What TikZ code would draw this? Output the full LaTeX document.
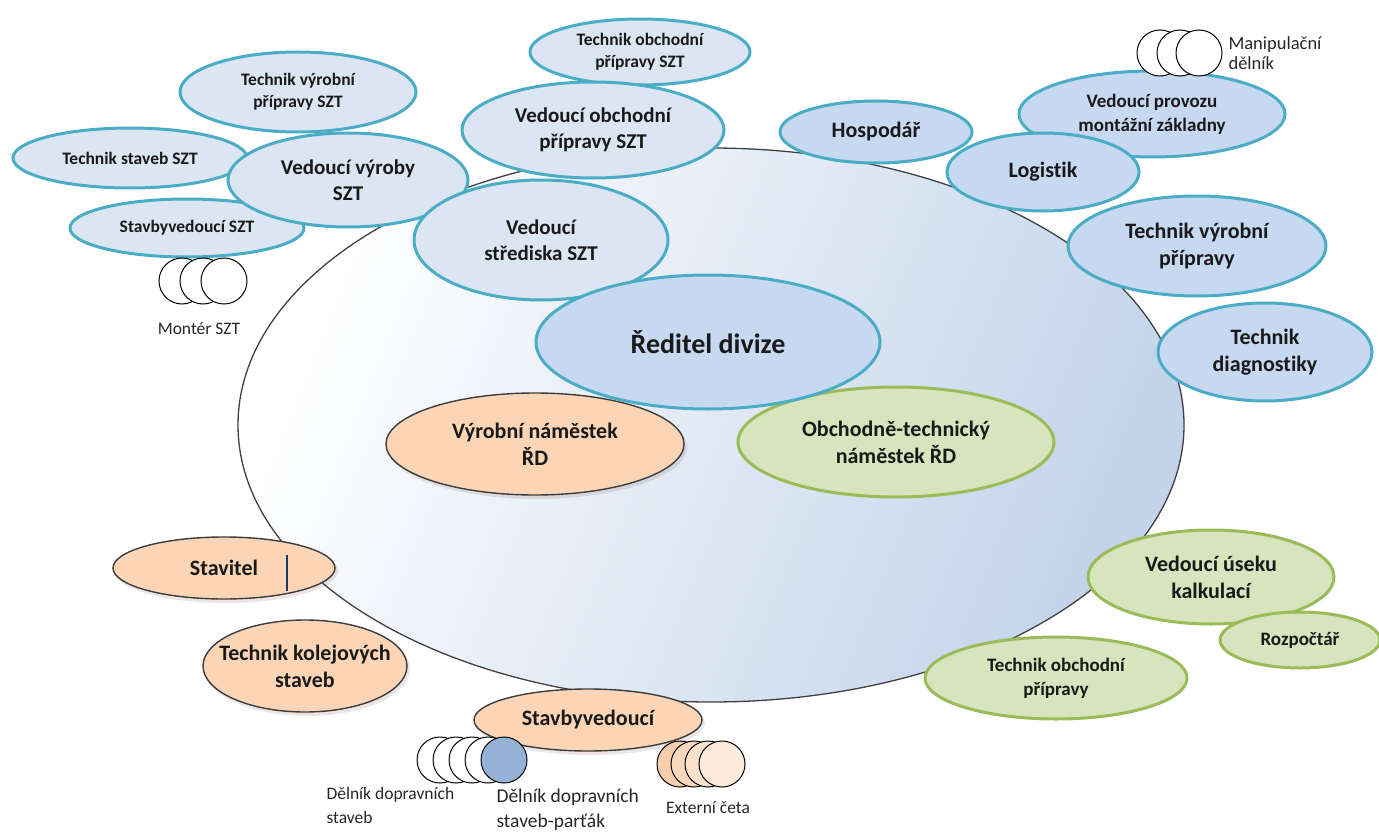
\documentclass[tikz,border=0pt]{standalone}
\usepackage{fontspec}
\setmainfont{Carlito}[Ligatures=NoCommon]
\usetikzlibrary{shapes.geometric}

\definecolor{sztfill}{RGB}{220,230,242}
\definecolor{bluefill}{RGB}{198,217,241}
\definecolor{tealline}{RGB}{75,172,198}
\definecolor{peachfill}{RGB}{251,213,181}
\definecolor{peachline}{RGB}{60,60,60}
\definecolor{greenfill}{RGB}{215,228,189}
\definecolor{greenline}{RGB}{155,187,89}
\definecolor{areablue}{RGB}{194,211,234}
\definecolor{partak}{RGB}{149,179,215}
\definecolor{ext1}{RGB}{246,206,172}
\definecolor{ext2}{RGB}{249,216,188}
\definecolor{ext3}{RGB}{251,225,203}
\definecolor{ext4}{RGB}{253,234,218}
\definecolor{cursor}{RGB}{31,56,100}
\definecolor{shadowbrown}{RGB}{90,50,30}

\tikzset{
  blob/.style={ellipse, inner sep=0pt, outer sep=0pt},
  szt/.style={blob, fill=sztfill, draw=tealline, line width=3pt},
  blu/.style={blob, fill=bluefill, draw=tealline, line width=3pt},
  peach/.style={blob, fill=peachfill, draw=peachline, line width=1.4pt},
  grn/.style={blob, fill=greenfill, draw=greenline, line width=3pt},
  txt/.style={align=center, text=black!90},
  small/.style={txt, font=\bfseries\fontsize{17.5}{22}\selectfont},
  smallb/.style={txt, font=\bfseries\fontsize{19}{24}\selectfont},
  mediums/.style={txt, font=\bfseries\fontsize{21}{26}\selectfont},
  medium/.style={txt, font=\bfseries\fontsize{22}{27}\selectfont},
  big/.style={txt, font=\bfseries\fontsize{28}{32}\selectfont},
  plain/.style={font=\fontsize{17.5}{24}\selectfont, align=left, text=black!85},
  worker/.style={circle, minimum size=46pt, inner sep=0pt, draw=black, line width=1pt, fill=white},
}

% #1 name, #2 x, #3 y, #4 x radius, #5 y radius, #6 shape style, #7 text style, #8 text
\newcommand\roleoval[8]{%
  \node[#6, minimum width={2*#4}, minimum height={2*#5}] (#1) at (#2,#3) {};
  \node[#7] (#1-t) at (#1.center) {#8};
}
% same with a soft shadow underneath
\newcommand\roleovalshadow[8]{%
  \fill[shadowbrown, opacity=.12] (#2+2,#3+3) ellipse [x radius=#4+1, y radius=#5+1];
  \roleoval{#1}{#2}{#3}{#4}{#5}{#6}{#7}{#8}
}

\begin{document}
\begin{tikzpicture}[x=1pt, y=-1pt]
\useasboundingbox (0,0) rectangle (1379,832);

% the division as a whole
\node[ellipse, minimum width=946, minimum height=554, inner sep=0pt,
      draw=black!75, line width=1.3pt,
      top color=white, middle color=areablue!30!white, bottom color=areablue,
      shading angle=68] (area) at (711,425) {};

% centre SZT
\roleoval{tops}{640}{52}{110}{33}{szt}{small}{Technik obchodní\\přípravy SZT}
\roleoval{tvps}{298}{92}{118}{40}{szt}{small}{Technik výrobní\\přípravy SZT}
\roleoval{tss}{130}{158}{117}{30}{szt}{small}{Technik staveb SZT}
\roleoval{sbvs}{187}{228}{117}{29}{szt}{small}{Stavbyvedoucí SZT}
\roleoval{vvs}{348}{180}{120}{47}{szt}{mediums}{Vedoucí výroby\\SZT}
\roleoval{vops}{593}{130}{131}{48}{szt}{mediums}{Vedoucí obchodní\\přípravy SZT}
\roleoval{vss}{541}{240}{127}{60}{szt}{mediums}{Vedoucí\\střediska SZT}

\node[worker] (ms1) at (182,281) {};
\node[worker] (ms2) at (203,281) {};
\node[worker] (ms3) at (224,281) {};
\node[plain] (mslabel) at (199,329) {Montér SZT};

% direct reports on the right
\roleoval{hosp}{876}{132}{96}{31}{blu}{medium}{Hospodář}
\roleoval{vpmz}{1152}{114}{133}{43}{blu}{smallb}{Vedoucí provozu\\montážní základny}
\node[worker] (md1) at (1160,53) {};
\node[worker] (md2) at (1180,53) {};
\node[worker] (md3) at (1199,53) {};
\node[plain, anchor=west, font=\fontsize{18.5}{20}\selectfont] (mdlabel) at (1225,53) {Manipulační\\dělník};
\roleoval{log}{1043}{172}{96}{39}{blu}{medium}{Logistik}
\roleoval{tvp}{1197}{246}{129}{50}{blu}{medium}{Technik výrobní\\přípravy}
\roleoval{tdg}{1265}{352}{107}{49}{blu}{medium}{Technik\\diagnostiky}

% deputies and director
\roleovalshadow{vnrd}{535}{444}{149}{51}{peach}{medium}{Výrobní náměstek\\ŘD}
\roleoval{otnrd}{896}{442}{158}{55}{grn}{medium}{Obchodně-technický\\náměstek ŘD}
\roleoval{rd}{708}{342}{172}{67}{blu}{big}{Ředitel divize}

% production branch
\roleovalshadow{stv}{224}{568}{111}{31}{peach}{medium}{Stavitel}
\draw[cursor, line width=1.2pt] ([shift={(63,-13)}]stv.center) -- ([shift={(63,23)}]stv.center);
\roleovalshadow{tks}{305}{666}{102}{46}{peach}{medium}{Technik kolejových\\staveb}
\roleovalshadow{sbv}{588}{720}{114}{31}{peach}{medium}{Stavbyvedoucí}

\node[worker] (dd1) at (440,760) {};
\node[worker] (dd2) at (456,760) {};
\node[worker] (dd3) at (472,760) {};
\node[worker] (dd4) at (488,760) {};
\node[worker, fill=partak] (dp) at (504,760) {};
\node[plain, anchor=north west] (ddlabel) at (323,784) {Dělník dopravních\\staveb};
\node[plain, anchor=north west, font=\fontsize{19.5}{25}\selectfont] (dplabel) at (493,785) {Dělník dopravních\\staveb-parťák};

\node[worker, fill=ext1] (ec1) at (680,764) {};
\node[worker, fill=ext2] (ec2) at (694,764) {};
\node[worker, fill=ext3] (ec3) at (708,764) {};
\node[worker, fill=ext4] (ec4) at (722,764) {};
\node[plain, font=\fontsize{17.5}{20}\selectfont] (eclabel) at (708,808) {Externí četa};

% commercial branch
\roleoval{vuk}{1211}{577}{123}{47}{grn}{medium}{Vedoucí úseku\\kalkulací}
\roleoval{roz}{1300}{640}{80}{28}{grn}{smallb}{Rozpočtář}
\roleoval{top}{1056}{678}{131}{41}{grn}{smallb}{Technik obchodní\\přípravy}

\end{tikzpicture}
\end{document}
